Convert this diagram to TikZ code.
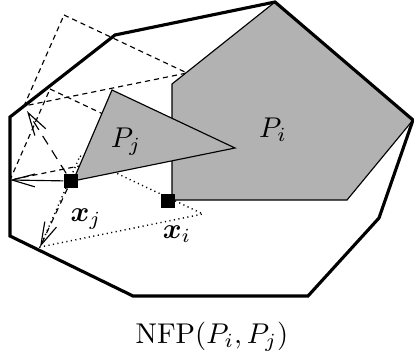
\documentclass[tikz,border=0pt]{standalone}
\usepackage{amsmath,amssymb}
\usepackage{xcolor}
\usepackage{tikz}
\usetikzlibrary{arrows.meta}

\begin{document}
\begin{tikzpicture}[
    x=0.35pt, y=-0.35pt,
    polyfill/.style={draw, fill=black!30, line width=0.4pt},
    nfpline/.style={draw, line width=1.1pt, line join=miter},
    ghost/.style={draw, dash pattern=on 1.8pt off 1.4pt, line width=0.4pt},
    trace/.style={draw, dash pattern=on 0.4pt off 1.2pt, line width=0.5pt},
    arr/.style={-{Straight Barb[length=8pt, width=4.5pt]}, line width=0.4pt},
    refpt/.style={rectangle, fill=black, minimum size=4.9pt, inner sep=0pt},
]
\useasboundingbox (0,0) rectangle (414,361);

% NFP vertices
\coordinate (n1) at (10,117);
\coordinate (n2) at (115,35);
\coordinate (n3) at (275,2);
\coordinate (n4) at (413,120);
\coordinate (n5) at (379,218);
\coordinate (n6) at (308,296);
\coordinate (n7) at (133,296);
\coordinate (n8) at (10,236);

% shifted copies of P_j
\coordinate (aTop) at (64,15);  \coordinate (aRight) at (187,73);  \coordinate (aRef) at (24,106);
\coordinate (bTop) at (50,89);  \coordinate (bRight) at (173,147); \coordinate (bRef) at (10,180);
\coordinate (cTop) at (80,156); \coordinate (cRight) at (203,214); \coordinate (cRef) at (40,247);
\coordinate (aTip) at (27,111);

\path[ghost] (aTop) -- (aRight) -- (aRef) -- cycle;
\path[ghost] (bTop) -- (bRight) -- (bRef) -- cycle;
\path[trace] (cTop) -- (cRight) -- (cRef) -- cycle;

% P_i and P_j
\path[polyfill] (172,84) -- (n3) -- (n4) -- (347,200) -- (172,200) -- cycle;
\path[polyfill] (112,90) -- (235,148) -- (73,181) -- cycle;

\path[nfpline] (n1) -- (n2) -- (n3) -- (n4) -- (n5) -- (n6) -- (n7) -- (n8) -- cycle;

\node[refpt] (xj) at (71,181) {};
\node[refpt] (xi) at (168,201) {};

\draw[arr] (xj) -- (bRef);
\draw[arr, dash pattern=on 3.5pt off 2.5pt] (xj) -- (aTip);
\draw[arr, dash pattern=on 2pt off 1.8pt] (xj) -- (cRef);

\node (lpj) at (126,142) {$P_j$};
\node (lpi) at (273,130) {$P_i$};
\node (lxj) at (86,219) {$\boldsymbol{x}_j$};
\node (lxi) at (177,234) {$\boldsymbol{x}_i$};
\node (title) at (212,337) {NFP$(P_i,P_j)$};
\end{tikzpicture}
\end{document}
